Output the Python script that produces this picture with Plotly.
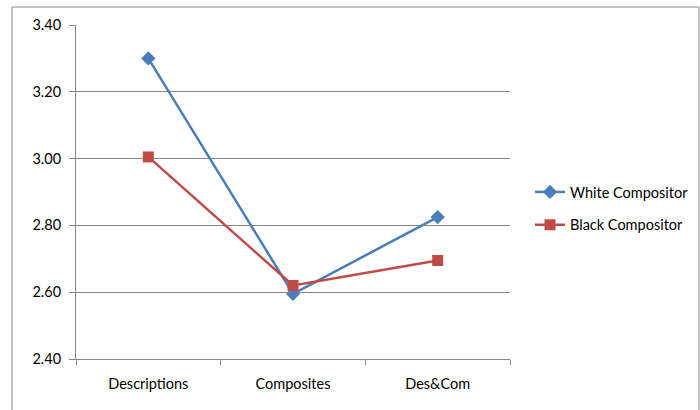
import plotly.graph_objects as go

categories = ["Descriptions", "Composites", "Des&Com"]
white_values = [3.30, 2.595, 2.825]
black_values = [3.005, 2.62, 2.695]
y_ticks = [2.40, 2.60, 2.80, 3.00, 3.20, 3.40]

BLUE = "#4A7EBB"
RED = "#BE4B48"
GRID = "#878787"

fig = go.Figure()
fig.add_trace(go.Scatter(
    x=categories, y=white_values, name="White Compositor", mode="lines+markers",
    line=dict(color=BLUE, width=2.5),
    marker=dict(symbol="diamond", size=11, color=BLUE),
    legendgroup="w",
))
fig.add_trace(go.Scatter(
    x=categories, y=black_values, name="Black Compositor", mode="lines+markers",
    line=dict(color=RED, width=2.5),
    marker=dict(symbol="square", size=11, color=RED),
    legendgroup="b",
))

L, R, T, B = 76, 190, 25, 51
W, H = 700 - L - R, 410 - T - B

def px_x(x):
    return (x - L) / W

def px_y(y):
    return 1 - (y - T) / H

fig.add_shape(type="rect", xref="paper", yref="paper",
              x0=px_x(12), x1=px_x(699), y0=px_y(413), y1=px_y(7),
              line=dict(color=GRID, width=1), fillcolor="rgba(0,0,0,0)", layer="below")

fig.update_layout(
    width=700, height=410,
    margin=dict(l=L, r=R, t=T, b=B, autoexpand=False),
    paper_bgcolor="white", plot_bgcolor="white",
    font=dict(family="Lato, 'Open Sans', sans-serif", size=14.5, color="#000000"),
    showlegend=True,
    legend=dict(x=px_x(530), y=px_y(176), xanchor="left", yanchor="top",
                tracegroupgap=11, font=dict(size=14.5), itemwidth=30,
                bgcolor="rgba(0,0,0,0)"),
    xaxis=dict(type="category", range=[-0.5, 2.5], showgrid=False,
               showline=True, linecolor=GRID, linewidth=1,
               ticks="outside", tickson="boundaries", ticklen=5, tickcolor=GRID,
               ticklabelstandoff=12),
    yaxis=dict(range=[2.4, 3.4], tickvals=y_ticks, tickformat=".2f",
               showgrid=True, gridcolor=GRID, gridwidth=1,
               showline=True, linecolor=GRID, linewidth=1,
               ticks="outside", ticklen=6, tickcolor=GRID,
               ticklabelstandoff=5, zeroline=False),
)

fig.write_html("out.html")
